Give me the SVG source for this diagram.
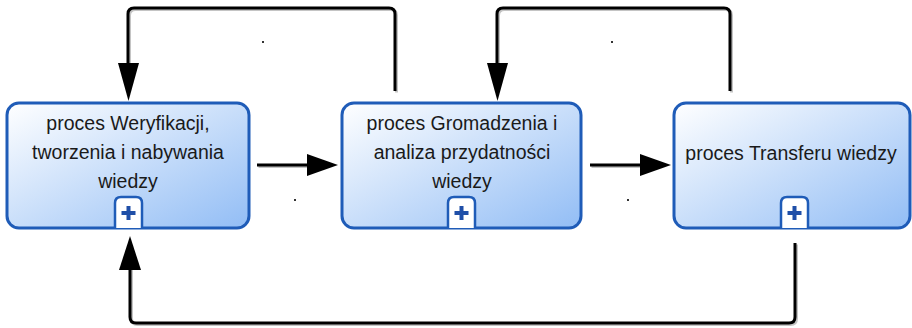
<svg xmlns="http://www.w3.org/2000/svg" width="912" height="328" viewBox="0 0 912 328">
<style>
.box{stroke:#1f5cb8;stroke-width:3;fill:url(#g)}
.lbl{font-family:"Liberation Sans",Arial,sans-serif;font-size:19.5px;fill:#1a1a1a;text-anchor:middle}
.pbox{fill:#fff;stroke:#1f5cb8;stroke-width:2.5}
.plus{stroke:#1f4fa8;stroke-width:4;fill:none}
.ln{fill:none;stroke:#000;stroke-width:3;stroke-linejoin:round}
.sh{fill:none;stroke:#c4c4c4;stroke-width:3;stroke-linejoin:round}
.ah{fill:#000}
.dot{fill:#333}
</style>
<defs>
<linearGradient id="g" x1="0" y1="0" x2="1" y2="1">
<stop offset="0" stop-color="#ffffff"/>
<stop offset="1" stop-color="#92bdf5"/>
</linearGradient>
</defs>
<g id="connectors">
<g transform="translate(1.5,1.5)">
<path class="sh" d="M395,91 V14 Q395,8 389,8 H134 Q128,8 128,14 V66"/>
<path class="sh" d="M730,91 V14 Q730,8 724,8 H503 Q497,8 497,14 V66"/>
<path class="sh" d="M257,165 H310"/>
<path class="sh" d="M590,165 H643"/>
<path class="sh" d="M795,243 V317 Q795,323 789,323 H136 Q130,323 130,317 V266"/>
</g>
<path class="ln" d="M395,91 V14 Q395,8 389,8 H134 Q128,8 128,14 V66"/>
<polygon class="ah" points="118,63 139,63 128.5,101"/>
<path class="ln" d="M730,91 V14 Q730,8 724,8 H503 Q497,8 497,14 V66"/>
<polygon class="ah" points="487,63 508,63 497.5,101"/>
<path class="ln" d="M257,165 H310"/>
<polygon class="ah" points="307,154 307,176 338,165"/>
<path class="ln" d="M590,165 H643"/>
<polygon class="ah" points="640,154 640,176 671,165"/>
<path class="ln" d="M795,243 V317 Q795,323 789,323 H136 Q130,323 130,317 V266"/>
<polygon class="ah" points="119,270 141,270 130,236"/>
<rect class="dot" x="262" y="41" width="2" height="2"/>
<rect class="dot" x="294" y="199" width="2" height="2"/>
<rect class="dot" x="611" y="41" width="2" height="2"/>
<rect class="dot" x="627" y="199" width="2" height="2"/>
</g>
<g id="node1">
<rect class="box" x="7" y="103" width="242" height="125" rx="12"/>
<text class="lbl" x="128" y="130">proces Weryfikacji,</text>
<text class="lbl" x="128" y="159">tworzenia i nabywania</text>
<text class="lbl" x="128" y="188">wiedzy</text>
<path class="pbox" d="M115,228 V203 Q115,197 121,197 H136 Q142,197 142,203 V228"/>
<path class="plus" d="M121.5,213 H135.5 M128.5,206 V220"/>
</g>
<g id="node2">
<rect class="box" x="342" y="103" width="239" height="125" rx="12"/>
<text class="lbl" x="462" y="130">proces Gromadzenia i</text>
<text class="lbl" x="462" y="159">analiza przydatności</text>
<text class="lbl" x="462" y="188">wiedzy</text>
<path class="pbox" d="M448,228 V203 Q448,197 454,197 H469 Q475,197 475,203 V228"/>
<path class="plus" d="M454.5,213 H468.5 M461.5,206 V220"/>
</g>
<g id="node3">
<rect class="box" x="674" y="103" width="236" height="125" rx="12"/>
<text class="lbl" x="791" y="160">proces Transferu wiedzy</text>
<path class="pbox" d="M781,228 V203 Q781,197 787,197 H802 Q808,197 808,203 V228"/>
<path class="plus" d="M787.5,213 H801.5 M794.5,206 V220"/>
</g>
</svg>
